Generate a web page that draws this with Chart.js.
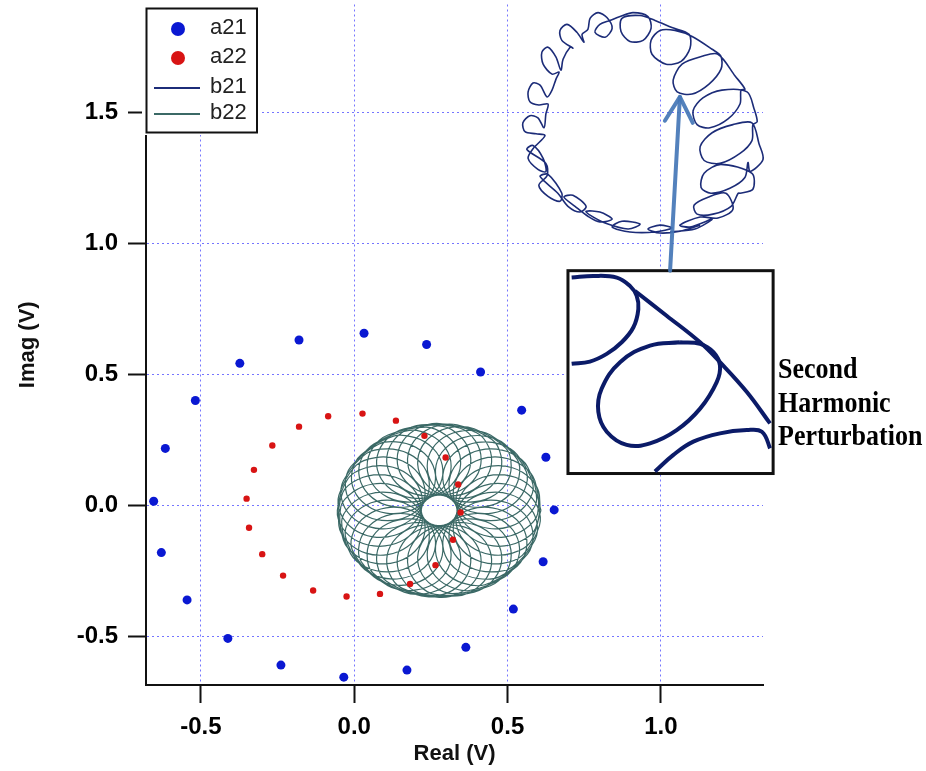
<!DOCTYPE html>
<html><head><meta charset="utf-8">
<script src="https://cdn.jsdelivr.net/npm/chart.js@4.4.1/dist/chart.umd.min.js"></script>
<style>html,body{margin:0;padding:0;background:#fff;}canvas{display:block;}</style>
</head><body>
<canvas id="c" width="926" height="771"></canvas>
<script>
// ---------- data ----------
const xTicks = [-0.5, 0.0, 0.5, 1.0];
const yTicks = [-0.5, 0.0, 0.5, 1.0, 1.5];
const seriesNames = ['a21', 'a22', 'b21', 'b22'];
const xTitle = 'Real (V)';
const yTitle = 'Imag (V)';
const insetLabel = ['Second', 'Harmonic', 'Perturbation'];

const a21 = [[0.032,0.657],[0.236,0.614],[0.412,0.509],[0.546,0.363],[0.625,0.183],[0.652,-0.018],[0.616,-0.216],[0.519,-0.397],[0.364,-0.543],[0.172,-0.630],[-0.034,-0.657],[-0.239,-0.611],[-0.412,-0.509],[-0.545,-0.362],[-0.629,-0.181],[-0.654,0.015],[-0.616,0.217],[-0.518,0.400],[-0.373,0.542],[-0.180,0.631]];

const a22 = [[-0.085,0.340],[0.027,0.350],[0.136,0.323],[0.229,0.265],[0.298,0.182],[0.339,0.079],[0.347,-0.028],[0.322,-0.132],[0.265,-0.229],[0.182,-0.301],[0.084,-0.339],[-0.025,-0.349],[-0.134,-0.326],[-0.232,-0.269],[-0.300,-0.187],[-0.343,-0.086],[-0.351,0.025],[-0.327,0.135],[-0.267,0.228],[-0.180,0.300]];

const b21 = [[1.128,1.070],[1.062,1.047],[0.997,1.040],[0.958,1.055],[0.997,1.070],[1.036,1.059],[0.981,1.044],[0.899,1.044],[0.841,1.063],[0.873,1.085],[0.932,1.074],[0.893,1.055],[0.818,1.078],[0.769,1.108],[0.756,1.123],[0.801,1.120],[0.841,1.093],[0.801,1.082],[0.762,1.104],[0.720,1.142],[0.684,1.177],[0.713,1.184],[0.756,1.142],[0.736,1.120],[0.697,1.142],[0.664,1.192],[0.606,1.256],[0.632,1.264],[0.677,1.192],[0.671,1.161],[0.632,1.180],[0.602,1.222],[0.629,1.260],[0.625,1.306],[0.563,1.359],[0.583,1.374],[0.616,1.325],[0.625,1.275],[0.599,1.283],[0.567,1.325],[0.583,1.362],[0.622,1.412],[0.593,1.419],[0.557,1.427],[0.550,1.461],[0.573,1.488],[0.599,1.480],[0.619,1.442],[0.625,1.495],[0.632,1.533],[0.602,1.529],[0.573,1.541],[0.567,1.579],[0.583,1.613],[0.606,1.605],[0.629,1.560],[0.645,1.586],[0.658,1.628],[0.668,1.655],[0.645,1.647],[0.616,1.685],[0.612,1.731],[0.632,1.750],[0.658,1.712],[0.674,1.662],[0.681,1.704],[0.704,1.750],[0.713,1.746],[0.677,1.776],[0.671,1.814],[0.694,1.837],[0.726,1.807],[0.749,1.769],[0.743,1.799],[0.762,1.818],[0.769,1.860],[0.795,1.882],[0.824,1.863],[0.841,1.822],[0.818,1.788],[0.785,1.807],[0.801,1.837],[0.834,1.852],[0.867,1.867],[0.909,1.882],[0.958,1.867],[0.968,1.822],[0.942,1.776],[0.899,1.772],[0.870,1.810],[0.873,1.860],[0.932,1.871],[0.981,1.852],[1.036,1.825],[1.092,1.799],[1.095,1.746],[1.066,1.696],[1.017,1.685],[0.971,1.723],[0.968,1.776],[0.997,1.814],[1.046,1.814],[1.102,1.791],[1.167,1.742],[1.196,1.715],[1.196,1.666],[1.157,1.609],[1.102,1.571],[1.053,1.579],[1.040,1.624],[1.069,1.685],[1.134,1.715],[1.186,1.723],[1.242,1.640],[1.274,1.590],[1.261,1.586],[1.258,1.533],[1.219,1.476],[1.160,1.442],[1.118,1.454],[1.105,1.507],[1.137,1.556],[1.199,1.586],[1.281,1.579],[1.304,1.514],[1.314,1.465],[1.300,1.454],[1.297,1.393],[1.258,1.344],[1.193,1.306],[1.141,1.317],[1.128,1.370],[1.167,1.423],[1.235,1.454],[1.297,1.461],[1.320,1.381],[1.333,1.321],[1.291,1.275],[1.284,1.309],[1.274,1.252],[1.225,1.211],[1.163,1.192],[1.131,1.214],[1.141,1.268],[1.196,1.302],[1.297,1.268],[1.300,1.207],[1.258,1.192],[1.252,1.192],[1.229,1.142],[1.170,1.112],[1.118,1.112],[1.108,1.146],[1.154,1.177],[1.212,1.192],[1.235,1.131],[1.186,1.097],[1.128,1.101],[1.062,1.070],[1.095,1.063],[1.167,1.093],[1.111,1.055],[1.030,1.044]];

const b22 = [
[0.609,-0.020],[0.591,0.049],[0.541,0.099],[0.472,0.117],[0.403,0.099],[0.353,0.049],[0.335,-0.020],[0.353,-0.089],[0.403,-0.139],[0.472,-0.157],[0.541,-0.139],[0.591,-0.089],
[0.604,0.038],[0.574,0.102],[0.516,0.143],[0.445,0.149],[0.381,0.119],[0.340,0.061],[0.334,-0.010],[0.364,-0.074],[0.422,-0.115],[0.493,-0.121],[0.557,-0.091],[0.598,-0.033],
[0.589,0.094],[0.548,0.152],[0.484,0.182],[0.413,0.176],[0.355,0.135],[0.325,0.071],[0.331,0.000],[0.372,-0.058],[0.436,-0.088],[0.507,-0.082],[0.565,-0.041],[0.595,0.023],
[0.565,0.147],[0.515,0.197],[0.446,0.215],[0.377,0.197],[0.327,0.147],[0.309,0.078],[0.327,0.009],[0.377,-0.041],[0.446,-0.059],[0.515,-0.041],[0.565,0.009],[0.583,0.078],
[0.531,0.193],[0.473,0.234],[0.402,0.240],[0.338,0.210],[0.297,0.152],[0.291,0.081],[0.321,0.017],[0.379,-0.024],[0.450,-0.030],[0.514,0.000],[0.555,0.058],[0.561,0.129],
[0.490,0.234],[0.426,0.264],[0.355,0.258],[0.297,0.217],[0.267,0.153],[0.273,0.082],[0.314,0.024],[0.378,-0.006],[0.449,0.000],[0.507,0.041],[0.537,0.105],[0.531,0.176],
[0.444,0.268],[0.375,0.286],[0.306,0.268],[0.256,0.218],[0.238,0.149],[0.256,0.080],[0.306,0.030],[0.375,0.012],[0.444,0.030],[0.494,0.080],[0.512,0.149],[0.494,0.218],
[0.391,0.292],[0.320,0.298],[0.256,0.268],[0.215,0.210],[0.209,0.139],[0.239,0.075],[0.297,0.034],[0.368,0.028],[0.432,0.058],[0.473,0.116],[0.479,0.187],[0.449,0.251],
[0.335,0.307],[0.264,0.301],[0.206,0.260],[0.176,0.196],[0.182,0.125],[0.223,0.067],[0.287,0.037],[0.358,0.043],[0.416,0.084],[0.446,0.148],[0.440,0.219],[0.399,0.277],
[0.277,0.312],[0.208,0.294],[0.158,0.244],[0.140,0.175],[0.158,0.106],[0.208,0.056],[0.277,0.038],[0.346,0.056],[0.396,0.106],[0.414,0.175],[0.396,0.244],[0.346,0.294],
[0.219,0.307],[0.155,0.277],[0.114,0.219],[0.108,0.148],[0.138,0.084],[0.196,0.043],[0.267,0.037],[0.331,0.067],[0.372,0.125],[0.378,0.196],[0.348,0.260],[0.290,0.301],
[0.163,0.292],[0.105,0.251],[0.075,0.187],[0.081,0.116],[0.122,0.058],[0.186,0.028],[0.257,0.034],[0.315,0.075],[0.345,0.139],[0.339,0.210],[0.298,0.268],[0.234,0.298],
[0.110,0.268],[0.060,0.218],[0.042,0.149],[0.060,0.080],[0.110,0.030],[0.179,0.012],[0.248,0.030],[0.298,0.080],[0.316,0.149],[0.298,0.218],[0.248,0.268],[0.179,0.286],
[0.064,0.234],[0.023,0.176],[0.017,0.105],[0.047,0.041],[0.105,0.000],[0.176,-0.006],[0.240,0.024],[0.281,0.082],[0.287,0.153],[0.257,0.217],[0.199,0.258],[0.128,0.264],
[0.023,0.193],[-0.007,0.129],[-0.001,0.058],[0.040,0.000],[0.104,-0.030],[0.175,-0.024],[0.233,0.017],[0.263,0.081],[0.257,0.152],[0.216,0.210],[0.152,0.240],[0.081,0.234],
[-0.011,0.147],[-0.029,0.078],[-0.011,0.009],[0.039,-0.041],[0.108,-0.059],[0.177,-0.041],[0.227,0.009],[0.245,0.078],[0.227,0.147],[0.177,0.197],[0.108,0.215],[0.039,0.197],
[-0.035,0.094],[-0.041,0.023],[-0.011,-0.041],[0.047,-0.082],[0.118,-0.088],[0.182,-0.058],[0.223,0.000],[0.229,0.071],[0.199,0.135],[0.141,0.176],[0.070,0.182],[0.006,0.152],
[-0.050,0.038],[-0.044,-0.033],[-0.003,-0.091],[0.061,-0.121],[0.132,-0.115],[0.190,-0.074],[0.220,-0.010],[0.214,0.061],[0.173,0.119],[0.109,0.149],[0.038,0.143],[-0.020,0.102],
[-0.055,-0.020],[-0.037,-0.089],[0.013,-0.139],[0.082,-0.157],[0.151,-0.139],[0.201,-0.089],[0.219,-0.020],[0.201,0.049],[0.151,0.099],[0.082,0.117],[0.013,0.099],[-0.037,0.049],
[-0.050,-0.078],[-0.020,-0.142],[0.038,-0.183],[0.109,-0.189],[0.173,-0.159],[0.214,-0.101],[0.220,-0.030],[0.190,0.034],[0.132,0.075],[0.061,0.081],[-0.003,0.051],[-0.044,-0.007],
[-0.035,-0.134],[0.006,-0.192],[0.070,-0.222],[0.141,-0.216],[0.199,-0.175],[0.229,-0.111],[0.223,-0.040],[0.182,0.018],[0.118,0.048],[0.047,0.042],[-0.011,0.001],[-0.041,-0.063],
[-0.011,-0.187],[0.039,-0.237],[0.108,-0.255],[0.177,-0.237],[0.227,-0.187],[0.245,-0.118],[0.227,-0.049],[0.177,0.001],[0.108,0.019],[0.039,0.001],[-0.011,-0.049],[-0.029,-0.118],
[0.023,-0.233],[0.081,-0.274],[0.152,-0.280],[0.216,-0.250],[0.257,-0.192],[0.263,-0.121],[0.233,-0.057],[0.175,-0.016],[0.104,-0.010],[0.040,-0.040],[-0.001,-0.098],[-0.007,-0.169],
[0.064,-0.274],[0.128,-0.304],[0.199,-0.298],[0.257,-0.257],[0.287,-0.193],[0.281,-0.122],[0.240,-0.064],[0.176,-0.034],[0.105,-0.040],[0.047,-0.081],[0.017,-0.145],[0.023,-0.216],
[0.110,-0.308],[0.179,-0.326],[0.248,-0.308],[0.298,-0.258],[0.316,-0.189],[0.298,-0.120],[0.248,-0.070],[0.179,-0.052],[0.110,-0.070],[0.060,-0.120],[0.042,-0.189],[0.060,-0.258],
[0.163,-0.332],[0.234,-0.338],[0.298,-0.308],[0.339,-0.250],[0.345,-0.179],[0.315,-0.115],[0.257,-0.074],[0.186,-0.068],[0.122,-0.098],[0.081,-0.156],[0.075,-0.227],[0.105,-0.291],
[0.219,-0.347],[0.290,-0.341],[0.348,-0.300],[0.378,-0.236],[0.372,-0.165],[0.331,-0.107],[0.267,-0.077],[0.196,-0.083],[0.138,-0.124],[0.108,-0.188],[0.114,-0.259],[0.155,-0.317],
[0.277,-0.352],[0.346,-0.334],[0.396,-0.284],[0.414,-0.215],[0.396,-0.146],[0.346,-0.096],[0.277,-0.078],[0.208,-0.096],[0.158,-0.146],[0.140,-0.215],[0.158,-0.284],[0.208,-0.334],
[0.335,-0.347],[0.399,-0.317],[0.440,-0.259],[0.446,-0.188],[0.416,-0.124],[0.358,-0.083],[0.287,-0.077],[0.223,-0.107],[0.182,-0.165],[0.176,-0.236],[0.206,-0.300],[0.264,-0.341],
[0.391,-0.332],[0.449,-0.291],[0.479,-0.227],[0.473,-0.156],[0.432,-0.098],[0.368,-0.068],[0.297,-0.074],[0.239,-0.115],[0.209,-0.179],[0.215,-0.250],[0.256,-0.308],[0.320,-0.338],
[0.444,-0.308],[0.494,-0.258],[0.512,-0.189],[0.494,-0.120],[0.444,-0.070],[0.375,-0.052],[0.306,-0.070],[0.256,-0.120],[0.238,-0.189],[0.256,-0.258],[0.306,-0.308],[0.375,-0.326],
[0.490,-0.274],[0.531,-0.216],[0.537,-0.145],[0.507,-0.081],[0.449,-0.040],[0.378,-0.034],[0.314,-0.064],[0.273,-0.122],[0.267,-0.193],[0.297,-0.257],[0.355,-0.298],[0.426,-0.304],
[0.531,-0.233],[0.561,-0.169],[0.555,-0.098],[0.514,-0.040],[0.450,-0.010],[0.379,-0.016],[0.321,-0.057],[0.291,-0.121],[0.297,-0.192],[0.338,-0.250],[0.402,-0.280],[0.473,-0.274],
[0.565,-0.187],[0.583,-0.118],[0.565,-0.049],[0.515,0.001],[0.446,0.019],[0.377,0.001],[0.327,-0.049],[0.309,-0.118],[0.327,-0.187],[0.377,-0.237],[0.446,-0.255],[0.515,-0.237],
[0.589,-0.134],[0.595,-0.063],[0.565,0.001],[0.507,0.042],[0.436,0.048],[0.372,0.018],[0.331,-0.040],[0.325,-0.111],[0.355,-0.175],[0.413,-0.216],[0.484,-0.222],[0.548,-0.192],
[0.604,-0.078],[0.598,-0.007],[0.557,0.051],[0.493,0.081],[0.422,0.075],[0.364,0.034],[0.334,-0.030],[0.340,-0.101],[0.381,-0.159],[0.445,-0.189],[0.516,-0.183],[0.574,-0.142],
[0.609,-0.020]];

// magnified detail of b21 shown in the inset (inset-local units 0..100)
const insetLoopTop = [[1.8,96.6],[12.3,97.4],[23.8,96.6],[30.2,92.5],[33.5,87.6],[34.3,81.0],[31.9,72.1],[26.2,64.7],[18.9,59.0],[10.7,55.2],[1.8,54.1]];
const insetEnvelope = [[32.7,90.0],[48.1,77.8],[64.4,64.7],[74.1,54.9],[87.2,40.2],[98.5,24.7]];
const insetLoopMid = [[54.6,64.7],[40.0,63.1],[25.4,54.9],[16.4,41.8],[14.8,30.4],[18.9,20.6],[28.6,14.1],[40.0,14.9],[53.0,21.4],[64.4,32.0],[72.5,45.1],[74.1,53.3],[70.9,59.8],[64.4,63.9],[54.6,64.7]];
const insetLoopLow = [[42.4,1.0],[51.4,9.2],[61.1,15.7],[74.1,19.8],[87.2,21.4],[94.5,20.6],[98.5,12.4],[98.8,10.0]];

// ---------- layout / style ----------
const X_MIN = -0.679, X_MAX = 1.333, Y_MIN = -0.687, Y_MAX = 1.913;
const INSET = {x0: 0.697, x1: 1.366, y0: 0.121, y1: 0.896};
const ARROW = {from: [1.030, 0.896], to: [1.062, 1.560], left: [1.013, 1.469], right: [1.104, 1.461]};
const COL = {a21: '#0a18d2', a22: '#d81414', b21: '#1c2c78', b22: '#3b6966', inset: '#0b1b68', grid: '#7575ff', arrow: 'rgba(68,118,182,0.92)'};
const FAMILY = '"Liberation Sans", Arial, Helvetica, sans-serif';

const pts = arr => arr.map(([x, y]) => ({x, y}));
const ikx = (INSET.x1 - INSET.x0) / 100, iky = (INSET.y1 - INSET.y0) / 100;

function insetDs(arr) {
  return {label: '', data: pts(arr), xAxisID: 'xi', yAxisID: 'yi', showLine: true, pointRadius: 0,
    borderColor: COL.inset, borderWidth: 4, tension: 0.4, clip: false, order: -1, inset: true};
}

const overlay = {
  id: 'overlay',
  beforeDraw(chart) {
    chart.$boxDone = false;
    const ctx = chart.ctx;
    ctx.save(); ctx.fillStyle = '#fff'; ctx.fillRect(0, 0, chart.width, chart.height); ctx.restore();
  },
  beforeDatasetDraw(chart, args) {
    const ds = chart.data.datasets[args.index];
    if (!ds.inset || chart.$boxDone) return;
    chart.$boxDone = true;
    const xs = chart.scales.x, ys = chart.scales.y, ctx = chart.ctx;
    const l = xs.getPixelForValue(INSET.x0), r = xs.getPixelForValue(INSET.x1);
    const t = ys.getPixelForValue(INSET.y1), b = ys.getPixelForValue(INSET.y0);
    ctx.save();
    ctx.fillStyle = '#fff'; ctx.fillRect(l, t, r - l, b - t);
    ctx.strokeStyle = '#111'; ctx.lineWidth = 3; ctx.strokeRect(l, t, r - l, b - t);
    ctx.restore();
  },
  afterDatasetsDraw(chart) {
    const xs = chart.scales.x, ys = chart.scales.y, ctx = chart.ctx;
    const P = p => [xs.getPixelForValue(p[0]), ys.getPixelForValue(p[1])];
    const f = P(ARROW.from), t = P(ARROW.to), l = P(ARROW.left), r = P(ARROW.right);
    ctx.save();
    ctx.strokeStyle = COL.arrow; ctx.lineWidth = 4; ctx.lineCap = 'round'; ctx.lineJoin = 'round';
    ctx.beginPath(); ctx.moveTo(f[0], f[1]); ctx.lineTo(t[0], t[1]); ctx.stroke();
    ctx.beginPath(); ctx.moveTo(l[0], l[1]); ctx.lineTo(t[0], t[1]); ctx.lineTo(r[0], r[1]); ctx.stroke();
    ctx.restore();
  },
  afterDraw(chart) {
    const ctx = chart.ctx;
    const ds = chart.data.datasets;
    ctx.save();
    // legend
    ctx.fillStyle = '#fff'; ctx.fillRect(142, 0, 120, 135);
    ctx.strokeStyle = '#111'; ctx.lineWidth = 2; ctx.strokeRect(146.5, 8.5, 110.5, 124);
    const rows = [28, 57, 87, 113];
    ctx.font = '22px ' + FAMILY; ctx.textBaseline = 'middle'; ctx.textAlign = 'left';
    for (let i = 0; i < 4; i++) {
      const d = ds[i];
      if (i < 2) {
        ctx.fillStyle = d.backgroundColor;
        ctx.beginPath(); ctx.arc(178, rows[i] + 1, 7, 0, Math.PI * 2); ctx.fill();
      } else {
        ctx.strokeStyle = d.borderColor; ctx.lineWidth = 2;
        ctx.beginPath(); ctx.moveTo(154, rows[i] + 1); ctx.lineTo(200, rows[i] + 1); ctx.stroke();
      }
      ctx.fillStyle = '#222';
      ctx.fillText(d.label, 210, rows[i]);
    }
    // inset caption
    ctx.fillStyle = '#000';
    ctx.font = 'bold 26px "Liberation Serif", "Times New Roman", serif';
    ctx.textBaseline = 'alphabetic';
    const base = [378, 412, 445];
    insetLabel.forEach((s, i) => {
      ctx.save(); ctx.translate(778, base[i]); ctx.scale(1, 1.1); ctx.fillText(s, 0, 0); ctx.restore();
    });
    ctx.restore();
  }
};

const tickFont = {family: FAMILY, size: 24, weight: 'bold'};
const titleFont = {family: FAMILY, size: 22, weight: 'bold'};

new Chart(document.getElementById('c'), {
  type: 'scatter',
  data: {
    datasets: [
      {label: seriesNames[0], data: pts(a21), pointRadius: 4.5, pointBorderWidth: 0, backgroundColor: COL.a21, borderColor: COL.a21, showLine: false},
      {label: seriesNames[1], data: pts(a22), pointRadius: 3.2, pointBorderWidth: 0, backgroundColor: COL.a22, borderColor: COL.a22, showLine: false},
      {label: seriesNames[2], data: pts(b21), showLine: true, pointRadius: 0, borderColor: COL.b21, backgroundColor: COL.b21, borderWidth: 1.6, tension: 0.3, clip: false},
      {label: seriesNames[3], data: pts(b22), showLine: true, pointRadius: 0, borderColor: COL.b22, backgroundColor: COL.b22, borderWidth: 1.2, tension: 0.35},
      insetDs(insetLoopTop), insetDs(insetEnvelope), insetDs(insetLoopMid), insetDs(insetLoopLow)
    ]
  },
  options: {
    responsive: false, animation: false, devicePixelRatio: 1, events: [],
    layout: {padding: {left: 0, top: 0, right: 163, bottom: 0}},
    elements: {line: {capBezierPoints: false}},
    plugins: {legend: {display: false}, tooltip: {enabled: false}, title: {display: false}},
    scales: {
      x: {
        type: 'linear', position: 'bottom', min: X_MIN, max: X_MAX,
        afterBuildTicks: s => { s.ticks = xTicks.map(v => ({value: v})); },
        afterFit: s => { s.height = 86; s.paddingLeft = 0; s.paddingRight = 0; },
        ticks: {font: tickFont, color: '#000', padding: 10, maxRotation: 0, autoSkip: false, callback: v => v.toFixed(1)},
        grid: {color: COL.grid, lineWidth: 1, tickLength: 18, tickColor: '#111', tickWidth: 2, tickBorderDash: []},
        border: {display: true, color: '#111', width: 2, dash: [2, 3]},
        title: {display: true, text: xTitle, font: titleFont, color: '#111', padding: {top: 0, bottom: 4}}
      },
      y: {
        type: 'linear', position: 'left', min: Y_MIN, max: Y_MAX,
        afterBuildTicks: s => { s.ticks = yTicks.map(v => ({value: v})); },
        afterFit: s => { s.width = 146; s.paddingTop = 0; s.paddingBottom = 0; },
        ticks: {font: tickFont, color: '#000', padding: 10, autoSkip: false, callback: v => v.toFixed(1)},
        grid: {color: COL.grid, lineWidth: 1, tickLength: 18, tickColor: '#111', tickWidth: 2, tickBorderDash: []},
        border: {display: true, color: '#111', width: 2, dash: [2, 3]},
        title: {display: true, text: yTitle, font: titleFont, color: '#111', padding: {top: 15, bottom: 0}}
      },
      xi: {type: 'linear', display: false, min: (X_MIN - INSET.x0) / ikx, max: (X_MAX - INSET.x0) / ikx},
      yi: {type: 'linear', display: false, min: (Y_MIN - INSET.y0) / iky, max: (Y_MAX - INSET.y0) / iky}
    }
  },
  plugins: [overlay]
});
</script>
</body></html>
